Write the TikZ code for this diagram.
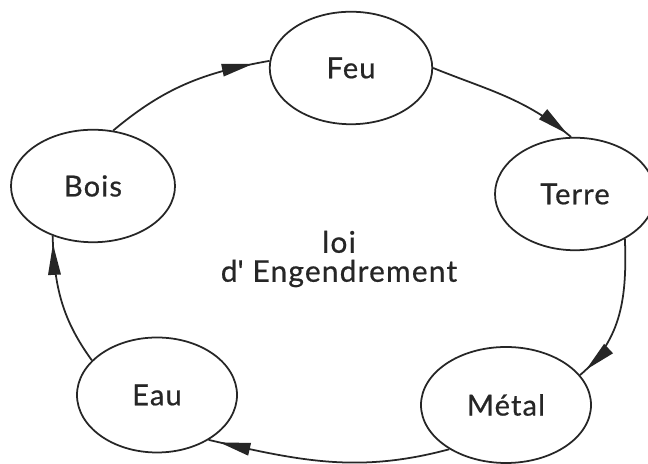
\documentclass[tikz,border=0pt]{standalone}
\usepackage{fontspec}
\setmainfont{Lato}[LetterSpace=4,FakeBold=0.6]
\usetikzlibrary{arrows.meta,shapes,decorations.markings,positioning}
\tikzset{
    %Define element style
    elem/.style={
           ellipse,
           draw=black!85,
           line width=1pt,
           text=black!85,
           minimum width=3.25cm,
           minimum height=2.25cm,
           font=\fontsize{16.5}{18}\selectfont},
    % Define arrow style (tip set a bit before the end)
    pil/.style={
           draw=black!85,
           line width=1pt,
           postaction={decorate},
           decoration={markings,
              mark=at position #1 with {\arrow{Triangle[length=6.2mm,width=2.5mm]}}}},
    pil/.default=-0.18cm
}
\begin{document}
\begin{tikzpicture}
\fill[white] (0,0) rectangle (12.96,9.28);
\useasboundingbox (0,0) rectangle (12.96,9.28);

\node[elem] (feu) at (7.02,7.92) {Feu};
\node[elem, minimum width=3.2cm] (terre) at (11.50,5.40) {Terre};
\node[elem, minimum width=3.4cm, minimum height=2.32cm] (metal) at (10.12,1.18) {Métal};
\node[elem, minimum width=3.2cm, minimum height=2.3cm] (eau) at (3.14,1.38) {Eau};
\node[elem, minimum width=3.28cm] (bois) at (1.86,5.56) {Bois};

\node[align=center, text=black!85, font=\fontsize{17}{16.5}\selectfont] (loi) at (6.78,4.10) {loi\\d\textquotesingle{} Engendrement};

\draw[pil=-0.34cm] (bois.70) to[out=40,in=190] (feu.175);
\draw[pil=-0.10cm] (feu.0) to[out=-22,in=140] (terre.94);
\draw[pil=-0.16cm] (terre.-42) to[out=-88,in=40] (metal.22);
\draw[pil=-0.22cm] (metal.-142) to[out=195,in=-13] (eau.-41);
\draw[pil=-0.16cm] (eau.152) to[out=126,in=-88] (bois.-129);
\end{tikzpicture}
\end{document}
